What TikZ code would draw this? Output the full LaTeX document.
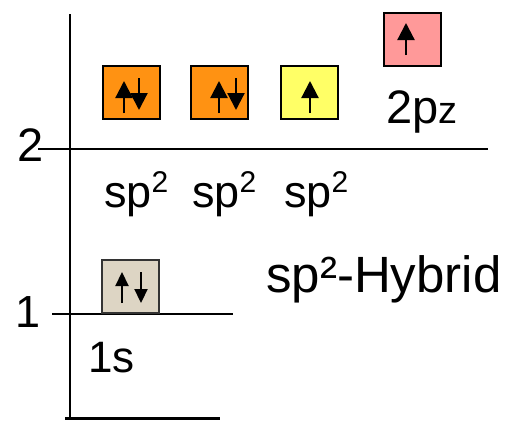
\documentclass[tikz,border=0pt]{standalone}
\usepackage{fontspec}
\setmainfont{Liberation Sans}
\usetikzlibrary{arrows.meta}
\definecolor{orb}{HTML}{FF9212}
\definecolor{ylw}{HTML}{FFFF66}
\definecolor{pnk}{HTML}{FF9999}
\definecolor{bge}{HTML}{DDD5C4}
\begin{document}
\begin{tikzpicture}[x=1pt,y=-1pt,
  orbital/.style={draw=black,line width=1.8pt,minimum width=57pt,minimum height=53pt,inner sep=0pt,anchor=north west},
  lbl/.style={inner sep=0pt,anchor=base west},
  elec/.style={line width=2.2pt,-{Triangle[width=17pt,length=17pt]}},
  elecs/.style={line width=2.2pt,-{Triangle[width=13pt,length=14pt]}},
  axis/.style={line width=1.5pt}]
\useasboundingbox (0,0) rectangle (506,421);
% axes
\coordinate (atop) at (70,14);
\coordinate (abot) at (70,419);
\draw[axis] (atop) -- (abot);
\coordinate (bl) at (65,418);
\coordinate (br) at (220,418);
\draw[line width=3pt] (bl) -- (br);
\coordinate (l2a) at (38,149);
\coordinate (l2b) at (488,149);
\draw[axis] (l2a) -- (l2b);
\coordinate (l1a) at (52,314);
\coordinate (l1b) at (233,314);
\draw[axis] (l1a) -- (l1b);
% axis labels
\node[lbl,font=\fontsize{47}{50}\selectfont] (n2) at (17,161) {2};
\node[lbl,font=\fontsize{45}{50}\selectfont] (n1) at (15,327) {1};
% boxes
\node[orbital,fill=orb] (b1) at (102,65) {};
\node[orbital,fill=orb] (b2) at (190,65) {};
\node[orbital,fill=ylw] (b3) at (280,65) {};
\node[orbital,fill=pnk] (b4) at (383,12) {};
\node[orbital,draw=black!80,fill=bge] (b5) at (101,259) {};
% electrons
\coordinate (e1a) at (124,113); \coordinate (e1b) at (124,81);
\coordinate (e2a) at (139,78);  \coordinate (e2b) at (139,110);
\draw[elec] (e1a) -- (e1b);
\draw[elec] (e2a) -- (e2b);
\coordinate (e3a) at (219,113); \coordinate (e3b) at (219,81);
\coordinate (e4a) at (236,78);  \coordinate (e4b) at (236,110);
\draw[elec] (e3a) -- (e3b);
\draw[elec] (e4a) -- (e4b);
\coordinate (e5a) at (310,113); \coordinate (e5b) at (310,81);
\draw[elec] (e5a) -- (e5b);
\coordinate (e6a) at (406,55); \coordinate (e6b) at (406,23);
\draw[elec] (e6a) -- (e6b);
\coordinate (e7a) at (122,303); \coordinate (e7b) at (122,272);
\coordinate (e8a) at (141,272); \coordinate (e8b) at (141,303);
\draw[elecs] (e7a) -- (e7b);
\draw[elecs] (e8a) -- (e8b);
% labels
\node[lbl,font=\fontsize{45}{50}\selectfont] (s1) at (104,207) {sp\raisebox{15pt}{\fontsize{30}{32}\selectfont 2}};
\node[lbl,font=\fontsize{45}{50}\selectfont] (s2) at (192,207) {sp\raisebox{15pt}{\fontsize{30}{32}\selectfont 2}};
\node[lbl,font=\fontsize{45}{50}\selectfont] (s3) at (284,207) {sp\raisebox{15pt}{\fontsize{30}{32}\selectfont 2}};
\node[lbl,font=\fontsize{47}{50}\selectfont] (pz) at (386,123) {2p{\fontsize{38}{40}\selectfont z}};
\node[lbl,font=\fontsize{51}{56}\selectfont] (hy) at (266,292) {sp²-Hybrid};
\node[lbl,font=\fontsize{44}{50}\selectfont] (s1s) at (88,372) {1s};
\end{tikzpicture}
\end{document}
